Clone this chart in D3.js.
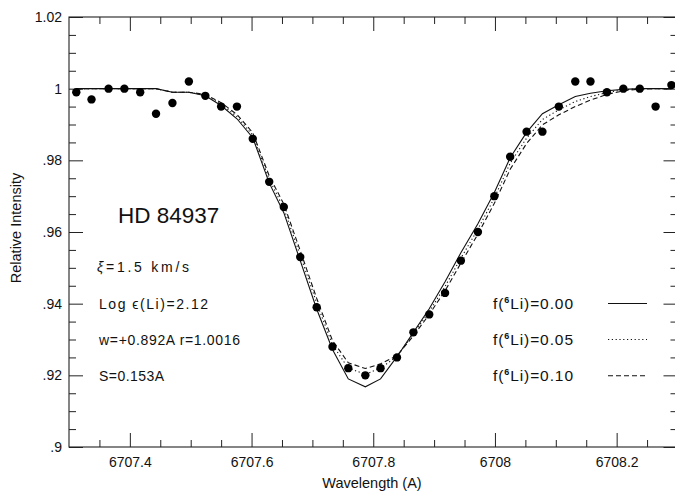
<!DOCTYPE html>
<html>
<head>
<meta charset="utf-8">
<script src="https://cdn.jsdelivr.net/npm/d3@7"></script>
<style>
  body { margin: 0; background: #fff; }
  svg { display: block; }
  text { font-family: "Liberation Sans", Arial, Helvetica, sans-serif; fill: #111; }
</style>
</head>
<body>
<div id="chart"></div>
<script>
// observed spectrum (wavelength in A, relative intensity)
const wavelengths = [
  6707.312, 6707.337, 6707.365, 6707.391, 6707.417, 6707.443, 6707.470, 6707.497,
  6707.524, 6707.550, 6707.576, 6707.602, 6707.629, 6707.653, 6707.680, 6707.707,
  6707.733, 6707.759, 6707.787, 6707.812, 6707.839, 6707.866, 6707.892, 6707.918,
  6707.944, 6707.972, 6707.999, 6708.025, 6708.052, 6708.078, 6708.105, 6708.132,
  6708.157, 6708.184, 6708.211, 6708.238, 6708.264, 6708.290
];
const observed = [
  0.999, 0.997, 1.000, 1.000, 0.999, 0.993, 0.996, 1.002,
  0.998, 0.995, 0.995, 0.986, 0.974, 0.967, 0.953, 0.939,
  0.928, 0.922, 0.920, 0.922, 0.925, 0.932, 0.937, 0.943,
  0.952, 0.960, 0.970, 0.981, 0.988, 0.988, 0.995, 1.002,
  1.002, 0.999, 1.000, 1.000, 0.995, 1.001
];
// synthetic spectra for the three 6Li fractions
const fit000 = [
  1.000, 1.000, 1.000, 1.000, 1.000, 1.000, 0.9990, 0.9990,
  0.9980, 0.9953, 0.9916, 0.9863, 0.9737, 0.9654, 0.9520, 0.9385,
  0.9272, 0.9190, 0.9168, 0.9190, 0.9252, 0.9320, 0.9386, 0.9461,
  0.9542, 0.9623, 0.9710, 0.9807, 0.9878, 0.9930, 0.9955, 0.9978,
  0.9987, 0.9994, 0.9998, 1.000, 1.000, 1.000
];
const fit005 = [
  1.000, 1.000, 1.000, 1.000, 1.000, 1.000, 0.9990, 0.9990,
  0.9982, 0.9957, 0.9922, 0.9870, 0.9747, 0.9666, 0.9535, 0.9402,
  0.9285, 0.9220, 0.9203, 0.9220, 0.9253, 0.9316, 0.9378, 0.9448,
  0.9527, 0.9608, 0.9695, 0.9792, 0.9862, 0.9914, 0.9941, 0.9964,
  0.9978, 0.9989, 0.9997, 1.000, 1.000, 1.000
];
const fit010 = [
  1.000, 1.000, 1.000, 1.000, 1.000, 1.000, 0.9990, 0.9990,
  0.9984, 0.9961, 0.9928, 0.9877, 0.9757, 0.9678, 0.9548, 0.9415,
  0.9297, 0.9235, 0.9219, 0.9232, 0.9255, 0.9310, 0.9370, 0.9436,
  0.9513, 0.9594, 0.9680, 0.9775, 0.9847, 0.9899, 0.9927, 0.9950,
  0.9968, 0.9984, 0.9994, 0.9999, 1.000, 1.000
];
const xTicks = [6707.4, 6707.6, 6707.8, 6708.0, 6708.2];
const xTickLabels = ["6707.4", "6707.6", "6707.8", "6708", "6708.2"];
const yTicks = [0.90, 0.92, 0.94, 0.96, 0.98, 1.00, 1.02];
const yTickLabels = [".9", ".92", ".94", ".96", ".98", "1", "1.02"];
const legendLabels = ["0.00", "0.05", "0.10"];

const W = 675, H = 492;
const margin = {top: 17, left: 69, bottom: 45};
const plotW = 608.5;
const plotH = H - margin.top - margin.bottom;

const svg = d3.select('#chart').append('svg')
  .attr('width', W)
  .attr('height', H);

const x = d3.scaleLinear().domain([6707.3, 6708.3]).range([0, plotW]);
const y = d3.scaleLinear().domain([0.9, 1.02]).range([plotH, 0]);

const g = svg.append('g')
  .attr('transform', `translate(${margin.left},${margin.top})`);

// minor ticks
const xMinor = d3.range(6707.35, 6708.3, 0.05).filter(v => !xTicks.some(t => Math.abs(t - v) < 1e-6));
const yMinor = d3.range(0.905, 1.02, 0.005).filter(v => !yTicks.some(t => Math.abs(t - v) < 1e-6));

function axisSet(axisFn, scale, ticks, minor, labels, transform, pad) {
  const major = g.append('g').attr('transform', transform)
    .call(axisFn(scale).tickValues(ticks).tickSize(-14).tickSizeOuter(0).tickPadding(pad)
      .tickFormat((d, i) => labels ? labels[i] : ''));
  const mn = g.append('g').attr('transform', transform)
    .call(axisFn(scale).tickValues(minor).tickSize(-7).tickSizeOuter(0).tickFormat(''));
  [major, mn].forEach(s => {
    s.select('.domain').remove();
    s.selectAll('line').attr('stroke', '#222').attr('stroke-width', 1);
  });
  major.selectAll('text').style('font-size', '14px').attr('fill', '#111');
  return major;
}

axisSet(d3.axisBottom, x, xTicks, xMinor, xTickLabels, `translate(0,${plotH})`, 10);
axisSet(d3.axisTop, x, xTicks, xMinor, null, 'translate(0,0)', 3);
axisSet(d3.axisLeft, y, yTicks, yMinor, yTickLabels, 'translate(0,0)', 7);
axisSet(d3.axisRight, y, yTicks, yMinor, null, `translate(${plotW},0)`, 3);

// frame
g.append('rect')
  .attr('width', plotW)
  .attr('height', plotH)
  .attr('fill', 'none')
  .attr('stroke', '#222')
  .attr('stroke-width', 1.1);

// model curves
const styles = [
  {data: fit000, dash: null},
  {data: fit005, dash: '1.2,2.6'},
  {data: fit010, dash: '5,3'}
];
const line = d3.line()
  .x((d, i) => x(wavelengths[i]))
  .y(d => y(d));

styles.forEach(s => {
  g.append('path')
    .datum(s.data)
    .attr('d', line)
    .attr('fill', 'none')
    .attr('stroke', '#111')
    .attr('stroke-width', 1.1)
    .attr('stroke-dasharray', s.dash);
});

// observed points
g.selectAll('circle')
  .data(observed)
  .join('circle')
  .attr('cx', (d, i) => x(wavelengths[i]))
  .attr('cy', d => y(d))
  .attr('r', 4.2)
  .attr('fill', '#000');

// axis titles
svg.append('text')
  .attr('x', 372)
  .attr('y', 488)
  .attr('text-anchor', 'middle')
  .style('font-size', '14.5px')
  .text('Wavelength (A)');

svg.append('text')
  .attr('transform', 'translate(21,228) rotate(-90)')
  .attr('text-anchor', 'middle')
  .style('font-size', '14.5px')
  .text('Relative Intensity');

// star name and parameters
svg.append('text')
  .attr('x', 118)
  .attr('y', 223)
  .style('font-size', '22.5px')
  .text('HD 84937');

const xi = svg.append('text')
  .attr('x', 97).attr('y', 271.5)
  .attr('textLength', 92).attr('lengthAdjust', 'spacing')
  .style('font-size', '14px');
xi.append('tspan').style('font-style', 'italic').text('ξ');
xi.append('tspan').text('=1.5  km/s');

svg.append('text')
  .attr('x', 99).attr('y', 308.5)
  .attr('textLength', 109).attr('lengthAdjust', 'spacing')
  .style('font-size', '14px')
  .text('Log  ϵ(Li)=2.12');

svg.append('text')
  .attr('x', 99).attr('y', 344.5)
  .attr('textLength', 141).attr('lengthAdjust', 'spacing')
  .style('font-size', '14px')
  .text('w=+0.892A  r=1.0016');

svg.append('text')
  .attr('x', 99).attr('y', 380.5)
  .attr('textLength', 65).attr('lengthAdjust', 'spacing')
  .style('font-size', '14px')
  .text('S=0.153A');

// legend
const legendY = [303.5, 339.5, 375.7];
legendLabels.forEach((lab, i) => {
  const t = svg.append('text')
    .attr('x', 493)
    .attr('y', legendY[i] + 5.5)
    .attr('textLength', 80).attr('lengthAdjust', 'spacing')
    .style('font-size', '15.5px');
  t.append('tspan').text('f(');
  t.append('tspan').attr('dy', -6).style('font-size', '9px').style('font-weight', 'bold').text('6');
  t.append('tspan').attr('dy', 6).text('Li)=' + lab);

  svg.append('line')
    .attr('x1', 608).attr('x2', 647)
    .attr('y1', legendY[i]).attr('y2', legendY[i])
    .attr('stroke', '#111')
    .attr('stroke-width', 1.1)
    .attr('stroke-dasharray', styles[i].dash);
});
</script>
</body>
</html>
